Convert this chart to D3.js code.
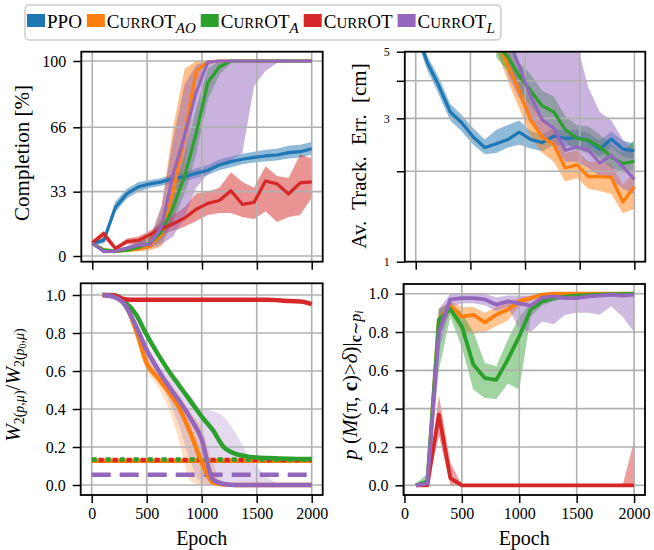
<!DOCTYPE html>
<html>
<head>
<meta charset="utf-8">
<script src="https://cdn.jsdelivr.net/npm/d3@7"></script>
<style>
  body { margin: 0; background: #fff; }
</style>
</head>
<body>
<div id="chart"></div>
<script>
// ---------- data ----------
const epochsTop = [0, 105, 211, 316, 421, 526, 632, 737, 842, 947, 1053, 1158, 1263, 1368, 1474, 1579, 1684, 1789, 1895, 2000];
const epochsBottom = [100, 200, 300, 400, 500, 600, 700, 800, 900, 1000, 1100, 1200, 1300, 1400, 1500, 1600, 1700, 1800, 1900, 2000];
const epochTicks = [0, 500, 1000, 1500, 2000];

// completion [%]
const complPPO   = [6.5, 8, 25, 32, 35.5, 37, 38, 39.8, 40.7, 42.4, 44, 46.7, 48.4, 49.6, 50.6, 51.3, 51.8, 53, 53.5, 55];
const complPPOLo = [5.5, 6.5, 22.5, 29.5, 33, 35, 36, 37.5, 38.5, 40, 41.5, 44, 45.5, 47, 48, 48.5, 49, 50, 50.5, 52];
const complPPOHi = [7.5, 9.5, 28, 34.5, 38, 39, 40, 42, 43, 45, 46.5, 49.5, 51, 52.5, 53.5, 54.5, 55, 56.5, 57, 58.5];
const complAO    = [6.5, 3, 2.5, 3, 3.5, 5, 11, 33, 62, 95, 99.5, 100, 100, 100, 100, 100, 100, 100, 100, 100];
const complAOLo  = [5.5, 2, 1.5, 2, 2.5, 3, 5, 18, 45, 88, 98, 99.5, 100, 100, 100, 100, 100, 100, 100, 100];
const complAOHi  = [7.5, 4, 3.5, 4.5, 5.5, 9, 25, 66, 96, 100, 100, 100, 100, 100, 100, 100, 100, 100, 100, 100];
const complA     = [6.5, 3, 2.5, 3, 4.5, 6.5, 12.5, 25, 41, 63, 89, 97, 100, 100, 100, 100, 100, 100, 100, 100];
const complALo   = [5.5, 2, 1.5, 2, 3, 4.5, 8, 18, 32, 52, 80, 93, 99, 100, 100, 100, 100, 100, 100, 100];
const complAHi   = [7.5, 4, 3.5, 5, 7, 11, 19, 33, 52, 76, 96, 100, 100, 100, 100, 100, 100, 100, 100, 100];
const complCurrOT   = [6.8, 11.5, 3.8, 7.4, 8, 11, 14, 16.5, 19.5, 24, 27, 28.5, 33.5, 26.5, 27.5, 38.5, 37, 31.8, 37.5, 38];
const complCurrOTLo = [5.5, 9, 3, 6, 6, 8.5, 11, 13, 15, 18, 21, 22, 22, 20, 19, 23, 17.5, 20, 21, 30];
const complCurrOTHi = [8, 13, 5, 9, 10, 13, 17, 21, 25, 32, 33, 35, 43, 38, 35, 46, 41, 40, 52, 50];
const complL     = [6.5, 2.2, 2.5, 4, 5.5, 6, 15, 42, 62, 84, 99.5, 100, 100, 100, 100, 100, 100, 100, 100, 100];
const complLLo   = [5.5, 1.5, 1.5, 3, 4, 4, 6, 10, 20, 35, 42, 46, 49, 53, 87, 95, 99, 100, 100, 100];
const complLHi   = [7.5, 3, 3.5, 5, 7, 9, 26, 60, 88, 98, 100, 100, 100, 100, 100, 100, 100, 100, 100, 100];

// average tracking error [cm] (curriculum runs enter the plot late)
const errPPO   = [6.0, 4.6, 3.85, 3.15, 2.9, 2.6, 2.4, 2.47, 2.55, 2.7, 2.55, 2.49, 2.62, 2.575, 2.59, 2.53, 2.37, 2.56, 2.37, 2.34];
const errPPOLo = [5.6, 4.35, 3.6, 2.95, 2.72, 2.45, 2.28, 2.3, 2.4, 2.45, 2.38, 2.33, 2.45, 2.42, 2.42, 2.38, 2.24, 2.4, 2.24, 2.2];
const errPPOHi = [6.5, 4.85, 4.1, 3.35, 3.08, 2.78, 2.55, 2.75, 2.85, 2.95, 2.72, 2.65, 2.78, 2.72, 2.75, 2.68, 2.52, 2.72, 2.52, 2.48];
const errEpochsAO = [737, 842, 947, 1053, 1158, 1263, 1368, 1474, 1579, 1684, 1789, 1895, 2000];
const errAO    = [5.6, 4.5, 3.7, 2.95, 2.6, 2.45, 2.05, 2.1, 1.92, 1.92, 1.91, 1.58, 1.78];
const errAOLo  = [5.1, 4.0, 3.25, 2.6, 2.3, 2.15, 1.85, 1.9, 1.75, 1.72, 1.68, 1.45, 1.5];
const errAOHi  = [6.2, 5.1, 4.2, 3.35, 2.95, 2.75, 2.3, 2.35, 2.15, 2.15, 2.12, 1.8, 2.0];
const errEpochsA = [737, 842, 947, 1053, 1158, 1263, 1368, 1474, 1579, 1684, 1789, 1895, 2000];
const errA     = [5.3, 4.8, 4.15, 3.7, 3.3, 3.15, 2.75, 2.57, 2.54, 2.41, 2.23, 2.12, 2.16];
const errALo   = [4.8, 4.3, 3.7, 3.3, 2.95, 2.8, 2.5, 2.35, 2.3, 2.2, 2.05, 1.98, 1.98];
const errAHi   = [5.8, 5.3, 4.6, 4.2, 3.7, 3.55, 3.05, 2.85, 2.82, 2.65, 2.45, 2.3, 2.55];
const errEpochsL = [842, 947, 1053, 1158, 1263, 1368, 1474, 1579, 1684, 1789, 1895, 2000];
const errL     = [5.6, 4.46, 3.54, 2.96, 2.78, 2.35, 2.41, 2.35, 2.13, 2.26, 2.07, 1.88];
const errLLo   = [4.2, 3.5, 3.0, 2.6, 2.45, 2.15, 2.15, 2.05, 1.92, 1.88, 1.75, 1.68];
const errLHi   = [6.5, 6.5, 6.5, 6.5, 6.5, 6.5, 5.3, 3.8, 3.15, 2.95, 2.55, 2.35];

// normalised Wasserstein distance to target
const w2AO     = [1.0, 0.995, 0.955, 0.82, 0.64, 0.565, 0.49, 0.4, 0.27, 0.12, 0.015, 0.002, 0, 0, 0, 0, 0, 0, 0, 0];
const w2AOLo   = [0.99, 0.985, 0.935, 0.79, 0.6, 0.52, 0.4, 0.22, 0.02, 0, 0, 0, 0, 0, 0, 0, 0, 0, 0, 0];
const w2AOHi   = [1.0, 1.0, 0.97, 0.85, 0.68, 0.61, 0.55, 0.47, 0.38, 0.3, 0.12, 0.01, 0, 0, 0, 0, 0, 0, 0, 0];
const w2A      = [1.0, 1.0, 0.965, 0.9, 0.79, 0.69, 0.6, 0.52, 0.44, 0.36, 0.29, 0.2, 0.165, 0.152, 0.145, 0.142, 0.14, 0.138, 0.137, 0.137];
const w2ALo    = [0.995, 0.99, 0.955, 0.885, 0.775, 0.675, 0.585, 0.505, 0.425, 0.345, 0.275, 0.19, 0.155, 0.145, 0.138, 0.135, 0.133, 0.131, 0.13, 0.13];
const w2AHi    = [1.0, 1.0, 0.975, 0.915, 0.805, 0.705, 0.615, 0.535, 0.455, 0.375, 0.305, 0.21, 0.175, 0.16, 0.152, 0.149, 0.147, 0.145, 0.144, 0.144];
const w2CurrOT = [1.0, 0.998, 0.978, 0.975, 0.975, 0.975, 0.975, 0.975, 0.975, 0.975, 0.975, 0.975, 0.975, 0.975, 0.975, 0.975, 0.972, 0.968, 0.966, 0.952];
const w2L      = [1.0, 0.99, 0.95, 0.84, 0.71, 0.61, 0.52, 0.44, 0.35, 0.24, 0.03, 0.005, 0, 0, 0, 0, 0, 0, 0, 0];
const w2LLo    = [0.99, 0.98, 0.93, 0.81, 0.67, 0.57, 0.45, 0.3, 0.12, 0.01, 0, 0, 0, 0, 0, 0, 0, 0, 0, 0];
const w2LHi    = [1.0, 1.0, 0.97, 0.87, 0.75, 0.65, 0.58, 0.52, 0.47, 0.4, 0.39, 0.36, 0.28, 0.18, 0.1, 0.04, 0.01, 0, 0, 0];
// reference levels (horizontal lines)
const refEpochs = [0, 2000];
const refAO = 0.128, refA = 0.134, refCurrOT = 0.131, refL = 0.054;

// success probability
const succAO     = [0.0, 0.01, 0.864, 0.937, 0.88, 0.89, 0.85, 0.89, 0.917, 0.96, 0.977, 0.995, 1.0, 1.0, 1.0, 1.0, 1.0, 1.0, 1.0, 1.0];
const succAOLo   = [0, 0, 0.8, 0.9, 0.8, 0.79, 0.8, 0.83, 0.86, 0.93, 0.96, 0.99, 0.998, 1, 1, 1, 1, 1, 1, 1];
const succAOHi   = [0.01, 0.03, 0.92, 0.96, 0.93, 0.93, 0.9, 0.93, 0.95, 0.98, 0.99, 1, 1, 1, 1, 1, 1, 1, 1, 1];
const succA      = [0.0, 0.02, 0.864, 0.92, 0.83, 0.63, 0.56, 0.55, 0.656, 0.777, 0.917, 0.96, 0.977, 0.985, 0.99, 0.993, 0.995, 0.997, 0.998, 1.0];
const succALo    = [0, 0, 0.6, 0.88, 0.72, 0.5, 0.455, 0.45, 0.53, 0.5, 0.88, 0.94, 0.96, 0.975, 0.985, 0.99, 0.99, 0.995, 0.995, 0.998];
const succAHi    = [0.01, 0.06, 0.92, 0.95, 0.9, 0.8, 0.64, 0.62, 0.76, 0.88, 0.95, 0.98, 0.99, 0.995, 1, 1, 1, 1, 1, 1];
const succCurrOT   = [0, 0, 0.369, 0.038, 0, 0, 0, 0, 0, 0, 0, 0, 0, 0, 0, 0, 0, 0, 0, 0];
const succCurrOTLo = [0, 0, 0.26, 0, 0, 0, 0, 0, 0, 0, 0, 0, 0, 0, 0, 0, 0, 0, 0, 0];
const succCurrOTHi = [0.005, 0.005, 0.47, 0.12, 0, 0, 0, 0, 0, 0, 0, 0, 0, 0, 0, 0, 0, 0, 0, 0.23];
const succL      = [0.0, 0.01, 0.795, 0.97, 0.977, 0.977, 0.97, 0.943, 0.96, 0.95, 0.937, 0.98, 0.986, 0.977, 0.977, 0.986, 0.99, 0.995, 0.99, 0.995];
const succLLo    = [0, 0, 0.7, 0.93, 0.95, 0.95, 0.94, 0.91, 0.93, 0.82, 0.8, 0.855, 0.84, 0.89, 0.9, 0.9, 0.89, 0.934, 0.88, 0.8];
const succLHi    = [0.01, 0.02, 0.92, 1, 1, 1, 1, 0.98, 0.99, 0.99, 0.99, 1, 1, 1, 1, 1, 1, 1, 1, 1];

const colors = { ppo: "#1f77b4", ao: "#ff7f0e", a: "#2ca02c", currot: "#d62728", l: "#9467bd" };
// no serif face may be installed, so fall back to DejaVu Sans explicitly
const font = '"Liberation Serif", "DejaVu Serif", "Noto Serif", "Times New Roman", "DejaVu Sans", sans-serif';

// ---------- svg ----------
const svg = d3.select("#chart")
  .append("svg")
  .attr("width", 654)
  .attr("height", 550);

svg.append("rect").attr("width", 654).attr("height", 550).attr("fill", "#fff");

function series(color, e, v, lo, hi) {
  return { color, e, v, lo, hi };
}

function drawPanel(p) {
  const g = svg.append("g");
  const x = d3.scaleLinear().domain(p.xDomain).range([p.left, p.right]);
  const y = p.y;

  g.append("clipPath").attr("id", "clip" + p.id)
    .append("rect")
    .attr("x", p.left).attr("y", p.top)
    .attr("width", p.right - p.left).attr("height", p.bottom - p.top);

  const plot = g.append("g").attr("clip-path", `url(#clip${p.id})`);

  // shaded bands first (they sit under grid and lines)
  const area = d3.area()
    .x(d => x(d.e)).y0(d => y(d.lo)).y1(d => y(d.hi))
    .curve(p.curve);
  plot.append("g")
    .selectAll("path")
    .data(p.series.filter(s => s.lo))
    .join("path")
    .attr("d", s => area(s.e.map((e, i) => ({ e, lo: s.lo[i], hi: s.hi[i] }))))
    .attr("fill", s => s.color)
    .attr("fill-opacity", p.bandOpacity)
    .attr("stroke", "none");

  // grid
  plot.append("g")
    .selectAll("line")
    .data(epochTicks)
    .join("line")
    .attr("x1", d => x(d)).attr("x2", d => x(d))
    .attr("y1", p.top).attr("y2", p.bottom);
  plot.append("g")
    .selectAll("line")
    .data(p.yGrid)
    .join("line")
    .attr("x1", p.left).attr("x2", p.right)
    .attr("y1", d => y(d)).attr("y2", d => y(d));
  plot.selectAll("line").attr("stroke", "#b0b0b0").attr("stroke-width", 1.6);

  // reference lines (dashed)
  if (p.refs) {
    plot.append("g")
      .selectAll("path")
      .data(p.refs)
      .join("path")
      .attr("d", r => d3.line().x(e => x(e)).y(() => y(r.v))(refEpochs))
      .attr("fill", "none")
      .attr("stroke", r => r.color)
      .attr("stroke-width", p.lineWidth)
      .attr("stroke-dasharray", r => r.dash)
      .attr("stroke-dashoffset", r => r.offset || 0);
  }

  // mean curves
  const line = d3.line().x(d => x(d.e)).y(d => y(d.v)).curve(p.curve);
  plot.append("g")
    .selectAll("path")
    .data(p.series)
    .join("path")
    .attr("d", s => line(s.e.map((e, i) => ({ e, v: s.v[i] }))))
    .attr("fill", "none")
    .attr("stroke", s => s.color)
    .attr("stroke-width", p.lineWidth)
    .attr("stroke-linejoin", "round");

  // frame
  g.append("rect")
    .attr("x", p.left).attr("y", p.top)
    .attr("width", p.right - p.left).attr("height", p.bottom - p.top)
    .attr("fill", "none").attr("stroke", "#000").attr("stroke-width", 1.8);

  // x axis
  const xa = g.append("g")
    .attr("transform", `translate(0,${p.bottom})`)
    .call(d3.axisBottom(x).tickValues(epochTicks).tickSize(8).tickPadding(5)
      .tickFormat(p.xLabels ? d3.format("d") : () => ""));
  // y axis
  const ya = g.append("g")
    .attr("transform", `translate(${p.left},0)`)
    .call(d3.axisLeft(y).tickValues(p.yTicks).tickSize(8).tickPadding(7)
      .tickFormat(p.yFormat));
  [xa, ya].forEach(a => {
    a.select(".domain").remove();
    a.selectAll("line").attr("stroke", "#000").attr("stroke-width", 1.5);
    a.selectAll("text").attr("font-family", font).attr("font-size", 16).attr("fill", "#000");
  });
  if (p.yFontSize) ya.selectAll("text").attr("font-size", p.yFontSize);
  return g;
}

// ---------- panels ----------
drawPanel({
  id: "tl", left: 81.3, right: 322.7, top: 51.7, bottom: 261.7,
  xDomain: [-100, 2100],
  y: d3.scaleLinear().domain([-2.92, 104.77]).range([261.7, 51.7]),
  yTicks: [0, 33, 66, 100], yGrid: [0, 33, 66, 100], yFormat: d3.format("d"),
  curve: d3.curveLinear, bandOpacity: 0.5, lineWidth: 3.2, xLabels: false,
  series: [
    series(colors.ppo, epochsTop, complPPO, complPPOLo, complPPOHi),
    series(colors.ao, epochsTop, complAO, complAOLo, complAOHi),
    series(colors.a, epochsTop, complA, complALo, complAHi),
    series(colors.currot, epochsTop, complCurrOT, complCurrOTLo, complCurrOTHi),
    series(colors.l, epochsTop, complL, complLLo, complLHi)
  ]
});

drawPanel({
  id: "tr", left: 404.8, right: 645.3, top: 51.7, bottom: 261.7,
  xDomain: [-100, 2100],
  y: d3.scaleLog().domain([1, 5]).range([261.7, 51.7]),
  yTicks: [1, 2, 3, 4, 5], yGrid: [2, 3, 4], yFormat: d => (d % 2 === 1 ? d : ""), yFontSize: 12,
  curve: d3.curveLinear, bandOpacity: 0.5, lineWidth: 3.2, xLabels: false,
  series: [
    series(colors.ppo, epochsTop, errPPO, errPPOLo, errPPOHi),
    series(colors.ao, errEpochsAO, errAO, errAOLo, errAOHi),
    series(colors.a, errEpochsA, errA, errALo, errAHi),
    series(colors.l, errEpochsL, errL, errLLo, errLHi)
  ]
});

drawPanel({
  id: "bl", left: 80.7, right: 322.7, top: 283.3, bottom: 495,
  xDomain: [-100, 2100],
  y: d3.scaleLinear().domain([-0.0526, 1.0616]).range([495, 283.3]),
  yTicks: [0, 0.2, 0.4, 0.6, 0.8, 1.0], yGrid: [0, 0.2, 0.4, 0.6, 0.8, 1.0], yFormat: d3.format(".1f"),
  curve: d3.curveMonotoneX, bandOpacity: 0.25, lineWidth: 4.5, xLabels: true,
  refs: [
    { v: refAO, color: colors.ao, dash: "100000" },
    { v: refA, color: colors.a, dash: "5 9" },
    { v: refCurrOT, color: colors.currot, dash: "5 9", offset: -7 },
    { v: refL, color: colors.l, dash: "19 9" }
  ],
  series: [
    series(colors.ao, epochsBottom, w2AO, w2AOLo, w2AOHi),
    series(colors.a, epochsBottom, w2A, w2ALo, w2AHi),
    series(colors.currot, epochsBottom, w2CurrOT),
    series(colors.l, epochsBottom, w2L, w2LLo, w2LHi)
  ]
});

drawPanel({
  id: "br", left: 403.5, right: 645, top: 284, bottom: 495,
  xDomain: [-8, 2095],
  y: d3.scaleLinear().domain([-0.0506, 1.0506]).range([495, 284]),
  yTicks: [0, 0.2, 0.4, 0.6, 0.8, 1.0], yGrid: [0, 0.2, 0.4, 0.6, 0.8, 1.0], yFormat: d3.format(".1f"),
  curve: d3.curveLinear, bandOpacity: 0.45, lineWidth: 3.8, xLabels: true,
  series: [
    series(colors.ao, epochsBottom, succAO, succAOLo, succAOHi),
    series(colors.a, epochsBottom, succA, succALo, succAHi),
    series(colors.currot, epochsBottom, succCurrOT, succCurrOTLo, succCurrOTHi),
    series(colors.l, epochsBottom, succL, succLLo, succLHi)
  ]
});

// ---------- axis labels ----------
function rotLabel(x, y) {
  return svg.append("text")
    .attr("transform", `translate(${x},${y}) rotate(-90)`)
    .attr("text-anchor", "middle")
    .attr("font-family", font)
    .attr("font-size", 21);
}
rotLabel(29, 153).text("Completion [%]");
rotLabel(366, 156).attr("word-spacing", 6).text("Av. Track. Err. [cm]");

// W2(p,mu)/W2(p0,mu)
const lbBL = rotLabel(20, 385);
lbBL.append("tspan").attr("font-style", "italic").text("W");
lbBL.append("tspan").attr("font-size", 14).attr("dy", 4).text("2");
lbBL.append("tspan").attr("font-size", 14).text("(");
lbBL.append("tspan").attr("font-size", 14).attr("font-style", "italic").text("p");
lbBL.append("tspan").attr("font-size", 14).text(",");
lbBL.append("tspan").attr("font-size", 14).attr("font-style", "italic").text("μ");
lbBL.append("tspan").attr("font-size", 14).text(")");
lbBL.append("tspan").attr("dy", -4).text("/");
lbBL.append("tspan").attr("font-style", "italic").text("W");
lbBL.append("tspan").attr("font-size", 14).attr("dy", 4).text("2");
lbBL.append("tspan").attr("font-size", 14).text("(");
lbBL.append("tspan").attr("font-size", 14).attr("font-style", "italic").text("p");
lbBL.append("tspan").attr("font-size", 10).attr("dy", 2).text("0");
lbBL.append("tspan").attr("font-size", 14).attr("dy", -2).text(",");
lbBL.append("tspan").attr("font-size", 14).attr("font-style", "italic").text("μ");
lbBL.append("tspan").attr("font-size", 14).text(")");

// p(M(pi,c)>delta)|c~p_i
const lbBR = rotLabel(357, 385);
lbBR.append("tspan").attr("font-style", "italic").text("p");
lbBR.append("tspan").text(" (");
lbBR.append("tspan").attr("font-style", "italic").text("M");
lbBR.append("tspan").text("(π, ");
lbBR.append("tspan").attr("font-weight", "bold").text("c");
lbBR.append("tspan").text(")>");
lbBR.append("tspan").attr("font-style", "italic").text("δ");
lbBR.append("tspan").text(")|");
lbBR.append("tspan").attr("font-size", 16).attr("font-weight", "bold").attr("dy", 4).text("c");
lbBR.append("tspan").attr("font-size", 16).text("∼");
lbBR.append("tspan").attr("font-size", 16).attr("font-style", "italic").text("p");
lbBR.append("tspan").attr("font-size", 12).attr("font-style", "italic").attr("dy", 2).text("i");

// x labels
[201.7, 524.2].forEach(cx => {
  svg.append("text")
    .attr("x", cx).attr("y", 545)
    .attr("text-anchor", "middle")
    .attr("font-family", font)
    .attr("font-size", 20)
    .text("Epoch");
});

// ---------- legend ----------
const legendItems = [
  { color: colors.ppo, name: "PPO" },
  { color: colors.ao, name: "CurrOT", sub: "AO" },
  { color: colors.a, name: "CurrOT", sub: "A" },
  { color: colors.currot, name: "CurrOT" },
  { color: colors.l, name: "CurrOT", sub: "L" }
];

const legend = svg.append("g");
const legendBox = legend.append("rect")
  .attr("x", 25).attr("y", 5).attr("height", 35)
  .attr("rx", 4)
  .attr("fill", "#fff").attr("fill-opacity", 0.8)
  .attr("stroke", "#cccccc").attr("stroke-width", 1.5);

let lx = 27;
legendItems.forEach(item => {
  legend.append("rect")
    .attr("x", lx).attr("y", 14)
    .attr("width", 18).attr("height", 13)
    .attr("fill", item.color);
  const t = legend.append("text")
    .attr("x", lx + 20).attr("y", 28)
    .attr("font-family", font)
    .attr("font-size", 19);
  if (item.name === "PPO") {
    t.text("PPO");
  } else {
    // small caps CurrOT
    t.append("tspan").text("C");
    t.append("tspan").attr("font-size", 15).text("URR");
    t.append("tspan").text("OT");
    if (item.sub) {
      t.append("tspan").attr("font-size", 15).attr("font-style", "italic").attr("dy", 5).text(item.sub);
    }
  }
  lx += 20 + t.node().getComputedTextLength() + 5;
});
legendBox.attr("width", lx - 25 + 1);
</script>
</body>
</html>
